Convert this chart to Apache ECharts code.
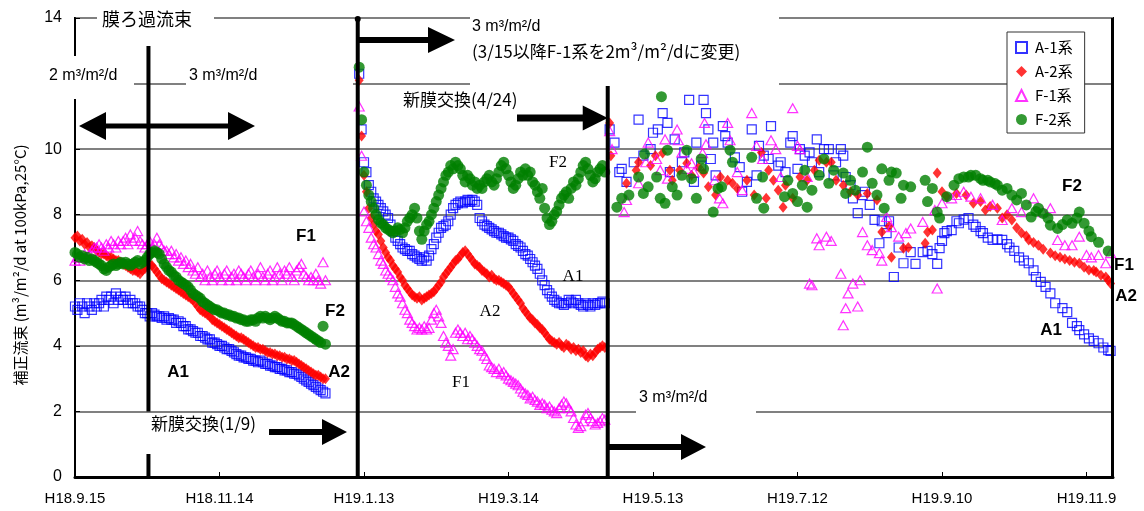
<!DOCTYPE html>
<html><head><meta charset="utf-8">
<script src="https://cdn.jsdelivr.net/npm/echarts@6/dist/echarts.min.js"></script>
<style>html,body{margin:0;padding:0;background:#fff}#c{width:1144px;height:511px}</style>
</head><body><div id="c"></div>
<script>
// ---- axis / category data ----
const tickLabels = ['H18.9.15','H18.11.14','H19.1.13','H19.3.14','H19.5.13','H19.7.12','H19.9.10','H19.11.9'];
const tickStepDays = 60;          // days between tick labels
const xMaxDay = 431;              // days after H18.9.15 shown
const seriesNames = ['A-1系','A-2系','F-1系','F-2系'];
const eventDays = [30.5, 117.4, 221.2];   // flux change (10/15), new membrane (1/9), new membrane (4/24)

// ---- period 1: daily values from day 0 (H18.9.15) ----
const period1Start = 0;
const a1P1 = [5.2,5.1,5.3,5.2,5.0,5.3,5.2,5.1,5.3,5.2, 5.3,5.4,5.2,5.5,5.4,5.5,5.3,5.6,5.4,5.5,
  5.4,5.5,5.3,5.4,5.3,5.3,5.2,5.2,5.1,5.0, 5.0,4.9,5.0,4.95,4.9,4.9,4.85,4.9,4.8,4.85,
  4.8,4.8,4.7,4.75,4.7,4.6,4.6,4.5,4.5,4.45, 4.4,4.4,4.3,4.3,4.25,4.2,4.2,4.1,4.1,4.05,
  4.0,4.0,3.95,3.9,3.9,3.85,3.8,3.75,3.7,3.7, 3.65,3.65,3.6,3.6,3.55,3.55,3.5,3.55,3.5,3.45,
  3.45,3.4,3.4,3.35,3.35,3.3,3.3,3.25,3.25,3.2, 3.2,3.15,3.15,3.1,3.05,3.0,2.95,2.9,2.85,2.8,
  2.75,2.7,2.65,2.6,2.55];
const a2P1 = [7.3,7.35,7.2,7.25,7.1,7.15,7.0,7.05,7.0,6.9, 6.85,6.8,6.8,6.75,6.7,6.7,6.65,6.6,6.6,6.55,
  6.5,6.45,6.4,6.35,6.3,6.3,6.25,6.2,6.3,6.35, 6.45,6.5,6.45,6.35,6.25,6.15,6.05,6.0,5.95,5.9,
  5.85,5.8,5.75,5.7,5.65,5.6,5.55,5.5,5.45,5.4, 5.3,5.2,5.1,5.05,5.0,4.95,4.9,4.8,4.75,4.7,
  4.65,4.6,4.55,4.5,4.45,4.4,4.35,4.3,4.25,4.25, 4.2,4.15,4.1,4.05,4.0,3.95,3.95,3.9,3.9,3.85,
  3.8,3.8,3.75,3.75,3.7,3.7,3.65,3.65,3.6,3.6, 3.55,3.55,3.5,3.45,3.4,3.35,3.3,3.25,3.2,3.15,
  3.1,3.1,3.05,3.0,3.0];
const f1P1 = [6.6,6.7,6.6,6.7,6.8,6.7,6.8,6.9,7.0,7.0, 7.1,7.0,6.9,7.1,7.0,7.2,7.1,7.0,7.2,7.1,
  7.2,7.3,7.1,7.4,7.2,7.3,7.5,7.2,7.1,7.0, 7.1,7.2,7.0,7.1,7.3,7.1,7.0,6.9,6.9,6.8,
  6.9,6.7,6.8,6.6,6.7,6.5,6.6,6.4,6.5,6.3, 6.2,6.4,6.1,6.2,6.0,6.3,6.1,6.0,6.2,6.3,
  6.1,6.0,6.2,6.3,6.0,6.1,6.2,6.0,6.3,6.2, 6.1,6.0,6.2,6.3,6.1,6.0,6.2,6.4,6.1,6.0,
  6.2,6.3,6.0,6.1,6.4,6.2,6.0,6.3,6.2,6.4, 6.1,6.0,6.3,6.4,6.5,6.2,6.1,6.0,6.1,6.0,
  6.2,6.0,5.9,6.55,6.0];
const f2P1 = [6.85,6.8,6.7,6.75,6.65,6.7,6.6,6.65,6.6,6.55, 6.5,6.45,6.35,6.3,6.4,6.45,6.5,6.45,6.5,6.55,
  6.5,6.55,6.5,6.45,6.5,6.55,6.6,6.5,6.55,6.6, 6.7,6.8,6.85,6.9,6.85,6.8,6.65,6.5,6.4,6.3,
  6.25,6.15,6.1,6.0,5.95,5.9,5.85,5.8,5.7,5.6, 5.55,5.5,5.45,5.35,5.3,5.25,5.2,5.15,5.1,5.1,
  5.05,5.0,5.0,4.95,4.95,4.9,4.9,4.85,4.85,4.8, 4.8,4.75,4.75,4.8,4.8,4.75,4.85,4.9,4.85,4.9,
  4.85,4.8,4.85,4.9,4.85,4.8,4.75,4.75,4.7,4.7, 4.7,4.65,4.6,4.55,4.5,4.45,4.4,4.35,4.3,4.25,
  4.2,4.15,4.1,4.6,4.05];

// ---- period 2: daily values from day 118 ----
const period2Start = 118;
const a1P2 = [12.3,10.6,9.6,9.3,8.9,8.7,8.5,8.4,8.3,8.2, 8.1,8.0,7.9,7.7,7.5,7.3,7.2,7.1,7.0,6.95,
  6.9,6.9,6.8,6.75,6.7,6.65,6.6,6.7,6.6,6.75, 6.95,7.1,7.3,7.45,7.6,7.65,7.7,7.8,8.0,8.2,
  8.3,8.35,8.4,8.35,8.4,8.45,8.4,8.45,8.4,8.3, 7.9,7.8,7.7,7.65,7.6,7.55,7.5,7.45,7.45,7.4,
  7.35,7.3,7.3,7.25,7.2,7.1,7.05,7.0,6.9,6.8, 6.75,6.65,6.55,6.45,6.35,6.2,6.0,5.85,5.7,5.6,
  5.5,5.4,5.35,5.3,5.3,5.25,5.3,5.4,5.35,5.3, 5.4,5.3,5.25,5.2,5.3,5.25,5.2,5.3,5.25,5.3,
  5.3,5.35,5.3];
const a2P2 = [12.1,10.4,9.2,8.7,8.2,7.9,7.7,7.5,7.4,7.2, 7.0,6.85,6.7,6.6,6.45,6.35,6.25,6.1,6.0,5.85,
  5.75,5.65,5.55,5.5,5.45,5.5,5.4,5.45,5.5,5.55, 5.6,5.65,5.75,5.85,5.95,6.1,6.2,6.3,6.4,6.5,
  6.6,6.65,6.75,6.85,6.9,6.8,6.7,6.6,6.5,6.45, 6.4,6.3,6.25,6.2,6.1,6.15,6.05,6.0,6.0,5.95,
  5.9,5.85,5.8,5.7,5.6,5.5,5.4,5.3,5.15,5.05, 4.95,4.85,4.8,4.7,4.65,4.55,4.5,4.4,4.3,4.2,
  4.15,4.1,4.05,4.1,4.0,3.95,4.05,4.0,3.9,3.95, 3.85,3.9,3.8,3.85,3.7,3.65,3.75,3.7,3.8,3.9,
  3.95,4.0,3.95];
const f1P2 = [11.3,9.8,8.1,7.8,7.6,7.3,7.1,7.0,6.8,6.6, 6.5,6.3,6.2,6.1,6.0,5.8,5.6,5.5,5.3,5.1,
  5.0,4.8,4.7,4.6,4.5,4.55,4.5,4.6,4.5,4.55, 4.8,5.0,5.1,4.9,4.7,4.3,4.1,4.0,3.7,3.9,
  4.4,4.5,4.4,4.3,4.4,4.2,4.3,4.2,4.1,4.0, 3.9,3.85,3.7,3.6,3.4,3.35,3.3,3.2,3.3,3.15,
  3.2,3.1,3.0,2.95,2.9,2.85,2.8,2.7,2.6,2.55, 2.5,2.4,2.45,2.35,2.3,2.2,2.25,2.2,2.1,2.15,
  2.05,2.0,1.95,2.1,2.2,2.3,2.25,2.1,2.0,1.8, 1.6,1.5,1.55,1.7,1.9,1.95,1.8,1.7,1.6,1.65,
  1.7,1.8,1.75];
const f2P2 = [12.5,10.9,9.3,8.9,8.6,8.4,8.2,8.0,7.85,7.75, 7.7,7.6,7.55,7.5,7.45,7.5,7.6,7.55,7.45,7.6,
  7.8,7.9,8.0,8.2,7.9,7.5,7.25,7.5,7.7,7.8, 8.0,8.2,8.4,8.6,8.8,9.0,9.2,9.3,9.5,9.4,
  9.6,9.5,9.4,9.2,9.0,9.2,9.1,8.9,9.0,8.8, 8.9,8.8,9.0,9.1,9.2,9.0,8.9,9.1,9.3,9.5,
  9.6,9.4,9.2,9.0,8.8,8.9,9.1,9.3,9.2,9.4, 9.2,9.3,9.0,8.9,8.7,8.5,8.8,8.2,7.9,7.7,
  7.8,8.0,8.1,8.3,8.5,8.6,8.7,8.5,8.8,9.0, 8.9,9.1,9.3,9.5,9.6,9.4,9.2,9.0,9.1,9.3,
  9.4,9.5,9.3];

// ---- period 3: [day, value] readings ----
const a1P3 = [[222,10.6],[224,10.2],[226,9.3],[227,9.4],[229,9.0],[232,9.6],[234,10.9],[236,9.8],[239,10.0],[240,10.5],
  [242,10.6],[244,11.1],[246,10.8],[247,9.3],[249,10.3],[252,9.6],[253,9.9],[255,11.5],[257,9.0],[258,10.2],
  [260,9.5],[261,11.5],[262,11.1],[263,10.6],[264,9.7],[265,10.2],[266,9.2],[269,10.7],[270,10.4],[271,10.2],
  [274,9.75],[276,9.45],[277,8.7],[279,9.0],[281,10.6],[283,9.2],[284,10.1],[286,9.8],[288,9.7],[289,10.7],
  [292,9.5],[293,9.6],[295,9.3],[297,10.2],[298,10.4],[300,9.4],[301,10.0],[303,9.8],[305,9.9],[306,9.6],
  [308,10.3],[309,9.3],[311,10.0],[313,10.0],[315,9.2],[316,9.6],[318,10.0],[319,9.8],[320,9.15],[322,8.9],
  [323,8.5],[325,8.05],[327,8.6],[328,8.7],[330,8.3],[332,7.84],[334,7.13],[335,7.8],[337,7.44],[338,7.8],
  [340,6.1],[342,7.0],[344,6.52],[347,6.86],[349,6.5],[352,6.86],[354,6.9],[356,6.8],[358,6.5],[359,6.98],
  [360,7.2],[361,7.44],[362,7.5],[364,7.53],[366,7.8],[367,7.74],[369,7.85],[371,7.9],[373,7.7],[374,7.63],
  [376,7.5],[377,7.44],[379,7.3],[381,7.23],[383,7.25],[385,7.23],[387,7.1],[388,7.0],[390,6.9],[392,6.7],
  [394,6.6],[396,6.52],[398,6.3],[399,6.1],[401,5.95],[403,5.8],[405,5.6],[407,5.3],[410,5.15],[412,5.03],
  [414,4.7],[416,4.6],[417,4.48],[419,4.35],[421,4.23],[423,4.15],[425,4.08],[427,3.95],[429,3.87],[430,3.85]];
const a2P3 = [[222,10.8],[222.5,9.8],[229,8.96],[233,9.36],[234,9.6],[239,9.5],[241,9.8],[244,9.88],[247,9.36],[248,9.05],
  [251,9.36],[254,9.57],[256,9.2],[259,9.45],[261,9.27],[263,8.85],[266,8.6],[268,9.15],[271,9.05],[273,8.96],
  [275,8.8],[279,9.05],[282,8.6],[285,9.9],[287,8.5],[288,9.36],[290,9.05],[292,8.75],[294,8.23],[295,8.9],
  [298,8.5],[301,9.15],[304,9.05],[307,9.36],[309,9.66],[312,9.6],[314,9.6],[316,9.05],[319,8.9],[322,8.7],
  [325,8.6],[329,8.65],[333,8.45],[335,7.47],[338,7.65],[339,6.7],[344,6.98],[346,7.0],[353,7.13],[354,7.47],
  [356,7.53],[358,9.27],[360,8.7],[362,8.55],[366,8.65],[370,8.6],[373,8.35],[376,8.4],[378,8.14],[380,8.25],
  [383,8.2],[385,7.9],[387,8.0],[389,7.84],[391,7.6],[393,7.44],[395,7.35],[396,7.23],[398,7.15],[400,7.07],
  [402,6.95],[405,6.83],[407,6.75],[409,6.7],[411,6.65],[413,6.6],[415,6.55],[417,6.52],[419,6.4],[421,6.31],
  [423,6.3],[424,6.25],[426,6.15],[428,6.1],[429,6.0],[430,5.9]];
const f1P3 = [[222,10.55],[223,10.0],[228,8.08],[229,8.45],[234,8.96],[237,9.6],[238,10.2],[241.5,9.7],[243,9.36],[245,10.3],
  [246,9.1],[250,10.6],[250.5,10.27],[252,9.9],[254,9.4],[256,9.57],[257,9.3],[260.6,9.88],[261.4,10.8],[262,10.15],
  [265.6,9.05],[267.6,8.5],[269,8.35],[271,10.8],[272,10.27],[275,9.3],[277,8.75],[281,11.1],[283,10.1],[285.5,9.7],
  [289,10.27],[291,10.0],[293,9.15],[298,11.25],[300,10.1],[301,10.0],[304,9.15],[305,5.9],[306,5.85],[308,7.28],
  [309,7.07],[312,7.33],[314,7.2],[318,6.2],[319,4.63],[320,5.15],[321,5.6],[323,5.9],[325,5.2],[326,6.0],
  [327,7.47],[329,7.07],[331,6.92],[334,6.83],[335,6.6],[337,7.93],[339,7.62],[342,7.33],[345,7.44],[347,7.58],
  [352,7.78],[357,8.14],[358,5.75],[360,8.35],[364,8.5],[366,8.6],[369,8.7],[372,8.55],[376,8.5],[381,8.3],
  [385,7.84],[389,8.2],[393,8.08],[398,8.5],[402,8.08],[405,8.2],[408,7.23],[411,7.07],[414,7.07],[417,7.33],
  [420,6.77],[422,6.7],[425,6.77],[428,6.52],[430,6.83]];
const f2P3 = [[225,8.23],[227,8.5],[230,8.6],[234,9.15],[236,8.65],[236.5,9.85],[238,8.85],[241.5,9.15],[243,8.5],[243.5,11.6],
  [245,8.35],[246,9.97],[248,8.85],[250,8.6],[252,9.2],[254,9.97],[256,9.1],[258,8.5],[260,9.7],[261,9.4],
  [265,8.08],[267,8.8],[268.5,8.85],[272,9.97],[273,9.6],[281,9.75],[283,8.5],[285.5,9.15],[286,8.2],[294.6,8.55],
  [296,9.05],[298,8.65],[300,8.4],[302,8.9],[303,9.36],[304,8.23],[306,8.75],[309,9.2],[311,9.7],[313,8.96],
  [315,9.36],[319,9.27],[320,8.65],[322,9.05],[324,8.75],[327,9.3],[329,10.06],[331,8.96],[333,8.6],[335,9.4],
  [336,8.2],[338,9.05],[339,9.3],[341,9.27],[343,8.5],[344,8.9],[347,8.85],[353,9.05],[354,8.4],[356,8.8],
  [358,8.08],[359,7.9],[362,8.55],[365,8.9],[367,9.1],[369,9.15],[371,9.15],[372,9.2],[374,9.2],[376,9.1],
  [377,9.05],[379,9.05],[380,9.0],[382,8.95],[383,8.9],[385,8.75],[387,8.8],[389,8.6],[391,8.45],[393,8.65],
  [395,8.3],[397,7.93],[399,8.1],[400,8.2],[402,8.04],[404,7.9],[405,7.68],[408,7.58],[410,7.7],[412,7.84],
  [414,7.74],[416,7.9],[417,8.08],[419,7.74],[421,7.5],[422,7.33],[425,7.16],[429,6.89]];

// ---- build series data ----
const daily = (start, vals) => vals.map((v, i) => [start + i, v]);
const a1Data = daily(period1Start, a1P1).concat(daily(period2Start, a1P2), a1P3);
const a2Data = daily(period1Start, a2P1).concat(daily(period2Start, a2P2), a2P3);
const f1Data = daily(period1Start, f1P1).concat(daily(period2Start, f1P2), f1P3);
const f2Data = daily(period1Start, f2P1).concat(daily(period2Start, f2P2), f2P3);

const JP = '"Noto Sans CJK JP", "Noto Sans", sans-serif';
const LAT = '"Liberation Sans", Arial, sans-serif';

const chart = echarts.init(document.getElementById('c'), null, {renderer: 'canvas'});
const hollow = c => ({color: 'rgba(255,255,255,0)', borderColor: c, borderWidth: 1.2});

chart.setOption({
  animation: false,
  backgroundColor: '#fff',
  grid: {left: 75, right: 31, top: 18, bottom: 34, show: true, borderColor: '#000', borderWidth: 2, backgroundColor: 'transparent'},
  legend: {
    orient: 'vertical', left: 1007, top: 32, padding: [8, 12, 6, 8], itemGap: 9,
    itemWidth: 11, itemHeight: 11, backgroundColor: '#fff', borderColor: '#333', borderWidth: 1,
    textStyle: {fontSize: 15, fontFamily: JP, color: '#000', padding: [0, 0, 0, 3]},
    data: seriesNames
  },
  xAxis: {
    type: 'value', min: 0, max: xMaxDay, interval: tickStepDays,
    axisLine: {lineStyle: {color: '#000', width: 3}},
    axisTick: {inside: true, length: 5, lineStyle: {color: '#000', width: 1}},
    splitLine: {show: false},
    axisLabel: {
      margin: 14, fontSize: 15, color: '#000', fontFamily: '"Liberation Sans Narrow", "Liberation Sans", sans-serif',
      showMaxLabel: false,
      formatter: v => (v % tickStepDays === 0 ? (tickLabels[v / tickStepDays] || '') : '')
    }
  },
  yAxis: {
    type: 'value', min: 0, max: 14, interval: 2,
    axisLine: {show: true, lineStyle: {color: '#000', width: 2}},
    axisTick: {show: true, inside: true, length: 5, lineStyle: {color: '#000'}},
    splitLine: {lineStyle: {color: '#808080', width: 2}},
    axisLabel: {margin: 13, fontSize: 16, color: '#000', fontFamily: LAT}
  },
  series: [
    {name: seriesNames[0], type: 'scatter', symbol: 'rect', symbolSize: 9, itemStyle: hollow('#0000ff'), data: a1Data, z: 2},
    {name: seriesNames[1], type: 'scatter', symbol: 'diamond', symbolSize: [9, 11], itemStyle: {color: '#ff0000'}, data: a2Data, z: 2},
    {name: seriesNames[2], type: 'scatter', symbol: 'triangle', symbolSize: [10, 9], itemStyle: hollow('#ff00ff'), data: f1Data, z: 2},
    {name: seriesNames[3], type: 'scatter', symbol: 'circle', symbolSize: 11, itemStyle: {color: '#008000'}, data: f2Data, z: 2}
  ]
});

// ---- annotations (positions derived from the axes where tied to dates) ----
const X = d => chart.convertToPixel({xAxisIndex: 0}, d);
const Y = v => chart.convertToPixel({yAxisIndex: 0}, v);
const yTop = Y(14), yBot = Y(0);
const xEv = eventDays.map(X);

const g = [];
const mask = (x, y, w, h) => g.push({type: 'rect', silent: true, z: 1, shape: {x, y, width: w, height: h}, style: {fill: '#fff'}});
const vline = (x, y1, y2, w) => g.push({type: 'line', silent: true, z: 10, shape: {x1: x, y1, x2: x, y2}, style: {stroke: '#000', lineWidth: w}});
const arrowR = (x1, x2, y, sh, hl, hh) => g.push({type: 'polygon', silent: true, z: 10, shape: {points: [
  [x1, y - sh / 2], [x2 - hl, y - sh / 2], [x2 - hl, y - hh], [x2, y], [x2 - hl, y + hh], [x2 - hl, y + sh / 2], [x1, y + sh / 2]]}, style: {fill: '#000'}});
const arrowLR = (x1, x2, y, sh, hl, hh) => g.push({type: 'polygon', silent: true, z: 10, shape: {points: [
  [x1, y], [x1 + hl, y - hh], [x1 + hl, y - sh / 2], [x2 - hl, y - sh / 2], [x2 - hl, y - hh], [x2, y],
  [x2 - hl, y + hh], [x2 - hl, y + sh / 2], [x1 + hl, y + sh / 2], [x1 + hl, y + hh]]}, style: {fill: '#000'}});
const txt = (x, y, text, font, align) => g.push({type: 'text', silent: true, z: 11, x, y,
  style: {text, font, fill: '#000', align: align || 'left', verticalAlign: 'middle'}});

// white masks that break the frame / grid lines behind the notes
mask(97, 8, 117, 20);
mask(40, 56, 94, 43);
mask(186, 60, 167, 35);
mask(470, 8, 309, 82);
mask(636, 402, 120, 18);

// event lines
vline(xEv[0], 46, Y(2), 4);
vline(xEv[0], 454, yBot, 4);
vline(xEv[1], yTop, yBot, 4);
g.push({type: 'circle', silent: true, z: 10, shape: {cx: xEv[1], cy: yTop + 1, r: 3}, style: {fill: '#000'}});
vline(xEv[2], 86, yBot, 4);
// right frame
vline(1112.5, yTop, yBot, 3);

// arrows
arrowLR(79, 255, 126, 5, 27, 14);
arrowR(xEv[1], 455, 40, 6, 27, 13);
arrowR(517, xEv[2], 118, 7, 25, 12.5);
arrowR(269, 347, 432, 6, 25, 13);
arrowR(xEv[2], 706, 447, 6, 25, 13);

// notes
txt(102, 19, '膜ろ過流束', '18px ' + JP);
txt(49, 76, '2 m³/m²/d', '16px ' + LAT);
txt(189, 76, '3 m³/m²/d', '16px ' + LAT);
txt(472, 27, '3 m³/m²/d', '16px ' + LAT);
txt(472, 52, '(3/15以降F-1系を2m³/m²/dに変更)', '17px ' + JP);
txt(403, 100, '新膜交換(4/24)', '17px ' + JP);
txt(151, 424, '新膜交換(1/9)', '17px ' + JP);
txt(639, 398, '3 m³/m²/d', '16px ' + LAT);

// series tags
const B = 'bold 17px ' + LAT, S = '17px "Liberation Serif", "DejaVu Serif", serif';
txt(306, 236, 'F1', B, 'center'); txt(335, 311, 'F2', B, 'center');
txt(178, 372, 'A1', B, 'center'); txt(339, 372, 'A2', B, 'center');
txt(558, 163, 'F2', S, 'center'); txt(573, 277, 'A1', S, 'center');
txt(490, 312, 'A2', S, 'center'); txt(461, 383, 'F1', S, 'center');
txt(1072, 186, 'F2', B, 'center'); txt(1124, 265, 'F1', B, 'center');
txt(1126, 296, 'A2', B, 'center'); txt(1051, 330, 'A1', B, 'center');

// y-axis title
g.push({type: 'text', silent: true, z: 11, x: 20, y: 265, rotation: Math.PI / 2,
  style: {text: '補正流束 (m³/m²/d at 100kPa,25°C)', font: '15px ' + JP, fill: '#000', align: 'center', verticalAlign: 'middle'}});

chart.setOption({graphic: {elements: g}});
</script>
</body></html>
